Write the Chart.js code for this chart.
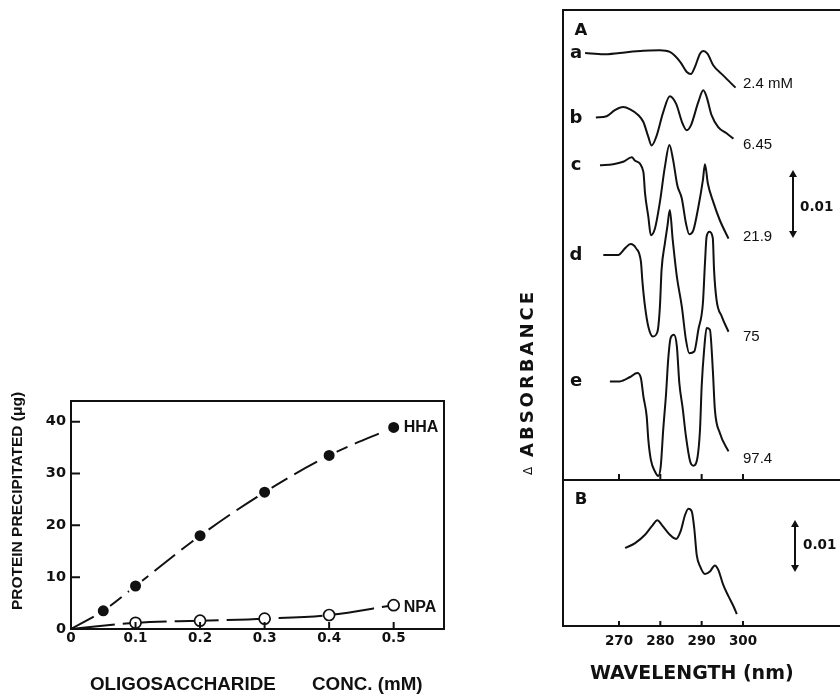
<!DOCTYPE html>
<html>
<head>
<meta charset="utf-8">
<script src="https://cdn.jsdelivr.net/npm/chart.js@4.4.1/dist/chart.umd.min.js"></script>
<style>
html, body { margin: 0; padding: 0; background: #fff; overflow: hidden; width: 840px; height: 696px; }
canvas { position: absolute; }
#left { left: 0; top: 380px; }
#specA { left: 500px; top: 0; }
#specB { left: 500px; top: 470px; }
</style>
</head>
<body>
<canvas id="left" width="460" height="316"></canvas>
<canvas id="specA" width="350" height="490"></canvas>
<canvas id="specB" width="350" height="226"></canvas>
<script>
// ---- left plot: protein precipitated vs oligosaccharide conc.
var concMM   = [0, 0.05, 0.1, 0.2, 0.3, 0.4, 0.5];
var hhaUg    = [0, 3.5, 8.3, 18.0, 26.4, 33.5, 38.9];
var npaConc  = [0, 0.1, 0.2, 0.3, 0.4, 0.5];
var npaUg    = [0, 1.2, 1.6, 2.0, 2.7, 4.6];
var concTicks = [0, 0.1, 0.2, 0.3, 0.4, 0.5];
var ugTicks   = [0, 10, 20, 30, 40];

// ---- difference spectra, wavelength (nm) and delta A (units of 0.001) from each trace start
var wl_a = [261.8, 266.2, 270.2, 274.3, 279.9, 282.3, 284.8, 286.4, 287.4, 288.4, 289.6, 290.4, 291.4, 292.8, 295.2, 298.2];
var da_a = [0, -0.2, 0, 0.25, 0.4, 0.15, -1.3, -2.8, -3.1, -2.0, -0.1, 0.3, -0.1, -1.8, -3.3, -5.1];
var wl_b = [264.4, 267.0, 269.0, 271.0, 272.7, 274.7, 275.9, 277.1, 277.9, 279.0, 280.7, 282.3, 283.8, 285.4, 286.4, 287.4, 289.2, 290.4, 291.2, 292.4, 294.0, 296.1, 297.7];
var da_b = [0, 0.2, 1.1, 1.55, 1.2, 0.35, -0.65, -2.85, -4.1, -2.85, 0.8, 3.15, 2.05, -0.9, -1.85, -1.15, 2.3, 4.0, 3.05, 0.35, -1.4, -2.35, -3.1];
var wl_c = [265.4, 268.6, 271.0, 273.1, 273.9, 275.9, 276.3, 277.1, 277.7, 278.7, 279.9, 281.1, 282.2, 283.1, 284.1, 285.2, 286.2, 287.0, 288.0, 289.2, 290.3, 290.8, 291.5, 292.8, 294.4, 296.5];
var da_c = [0, 0.15, 0.5, 1.15, 0.65, -1.0, -4.15, -7.6, -10.3, -9.3, -5.4, -0.25, 2.95, 0.75, -2.95, -4.9, -8.55, -10.15, -9.55, -6.15, -2.2, 0.15, -2.7, -5.4, -8.1, -10.8];
var wl_d = [266.2, 269.8, 271.5, 272.8, 274.1, 275.3, 275.7, 276.3, 277.1, 278.2, 279.3, 279.9, 280.3, 281.1, 281.7, 282.3, 283.0, 284.0, 285.2, 286.2, 287.0, 288.2, 289.2, 290.3, 290.8, 291.2, 291.9, 292.7, 293.0, 293.6, 294.9, 296.5];
var da_d = [0, 0, 1.0, 1.6, 1.0, -1.0, -4.15, -7.6, -10.55, -12.0, -11.3, -7.6, -2.2, 1.7, 4.15, 6.6, 2.2, -3.2, -7.6, -12.5, -14.45, -14.2, -11.0, -7.1, -1.2, 2.7, 3.4, 2.45, -2.2, -6.6, -9.1, -11.3];
var wl_e = [267.8, 270.2, 272.7, 274.4, 275.3, 275.9, 276.7, 277.1, 277.7, 278.7, 279.5, 280.1, 280.7, 281.4, 281.9, 282.5, 283.3, 284.0, 284.6, 285.4, 286.2, 287.2, 288.0, 288.8, 289.6, 290.0, 290.6, 291.2, 292.0, 292.7, 293.2, 294.4, 296.5];
var da_e = [0, 0, 0.65, 1.25, 0.5, -2.2, -5.15, -8.6, -11.5, -13.25, -13.9, -12.5, -7.1, -1.7, 3.2, 6.4, 6.85, 5.15, -0.25, -3.9, -8.1, -11.75, -12.4, -11.75, -7.1, -0.75, 4.65, 7.85, 7.6, 1.7, -4.15, -7.6, -10.3];
var traceBase  = [62.8, 53.3, 46.3, 33.1, 14.5];   // start level of each trace, 0.001 A
var traceNames = ['a', 'b', 'c', 'd', 'e'];
var traceConc  = ['2.4 mM', '6.45', '21.9', '75', '97.4'];
var wl_B = [271.5, 273.9, 276.3, 277.9, 279.3, 280.3, 282.3, 283.8, 284.9, 286.0, 286.8, 287.6, 288.2, 288.8, 289.6, 290.8, 292.0, 293.2, 294.0, 295.2, 296.5, 297.7, 298.5];
var da_B = [0, 0.95, 2.55, 4.15, 5.35, 4.5, 2.55, 1.75, 3.2, 6.4, 7.55, 7.05, 3.85, -1.3, -3.5, -5.0, -4.5, -3.35, -4.15, -7.05, -9.3, -11.2, -12.7];
var baseB = 15.0;
var wlTicks = [270, 280, 290, 300];
var barA = [35.6, 45.6];   // 0.01 A scale bar
var barB = [10.4, 20.4];

var ink = '#111';
var concDy = [-4, 6, -2, 5, 7];
Chart.defaults.font.family = '"DejaVu Sans"';
Chart.defaults.color = ink;

function txt(ctx, s, x, y, font, align, base, rot, spacing) {
	ctx.save();
	ctx.font = font;
	ctx.textAlign = align || 'left';
	ctx.textBaseline = base || 'alphabetic';
	if (spacing) ctx.letterSpacing = spacing;
	ctx.translate(x, y);
	if (rot) ctx.rotate(rot);
	ctx.fillText(s, 0, 0);
	ctx.restore();
}

function frame(ctx, a) {
	ctx.lineWidth = 2;
	ctx.strokeRect(a.left, a.top, a.right - a.left, a.bottom - a.top);
}

// ticks pointing into the plot
function xTicksIn(ctx, s, y, vals, len) {
	ctx.beginPath();
	vals.forEach(function(v){
		var p = s.getPixelForValue(v);
		ctx.moveTo(p, y); ctx.lineTo(p, y - len);
	});
	ctx.stroke();
}
function yTicksIn(ctx, s, x, vals, len) {
	ctx.beginPath();
	vals.forEach(function(v){
		var p = s.getPixelForValue(v);
		ctx.moveTo(x, p); ctx.lineTo(x + len, p);
	});
	ctx.stroke();
}

function scaleBar(ctx, x, y1, y2) {
	var top = Math.min(y1, y2), bot = Math.max(y1, y2);
	ctx.lineWidth = 2;
	ctx.beginPath();
	ctx.moveTo(x, top + 5); ctx.lineTo(x, bot - 5);
	ctx.stroke();
	ctx.beginPath();
	ctx.moveTo(x, top); ctx.lineTo(x - 4, top + 7); ctx.lineTo(x + 4, top + 7); ctx.closePath();
	ctx.moveTo(x, bot); ctx.lineTo(x - 4, bot - 7); ctx.lineTo(x + 4, bot - 7); ctx.closePath();
	ctx.fill();
}

function pts(xs, ys, base) {
	return xs.map(function(x, i){ return { x: x, y: (base || 0) + ys[i] }; });
}

var noLegend = { legend: { display: false }, tooltip: { enabled: false } };

// ---------------- left chart
var leftExtras = {
	id: 'leftExtras',
	afterDraw: function(chart) {
		var ctx = chart.ctx, a = chart.chartArea, xs = chart.scales.x, ys = chart.scales.y;
		ctx.save();
		ctx.strokeStyle = ink; ctx.fillStyle = ink;
		frame(ctx, a);
		ctx.lineWidth = 2;
		xTicksIn(ctx, xs, a.bottom, concTicks.slice(1), 7);
		yTicksIn(ctx, ys, a.left, ugTicks.slice(1), 9);
		var n = concMM.length - 1;
		txt(ctx, 'HHA', xs.getPixelForValue(concMM[n]) + 10, ys.getPixelForValue(hhaUg[n]), 'bold 16px "Liberation Sans"', 'left', 'middle');
		n = npaConc.length - 1;
		txt(ctx, 'NPA', xs.getPixelForValue(npaConc[n]) + 10, ys.getPixelForValue(npaUg[n]) + 2, 'bold 16px "Liberation Sans"', 'left', 'middle');
		txt(ctx, 'PROTEIN PRECIPITATED (\u03bcg)', a.left - 53, a.top + 100, 'bold 15.5px "Liberation Sans"', 'center', 'middle', -Math.PI / 2);
		txt(ctx, 'OLIGOSACCHARIDE', 90, 310, 'bold 18.8px "Liberation Sans"', 'left', 'alphabetic');
		txt(ctx, 'CONC. (mM)', 312, 310, 'bold 18.8px "Liberation Sans"', 'left', 'alphabetic');
		ctx.restore();
	}
};

new Chart(document.getElementById('left'), {
	type: 'line',
	data: {
		datasets: [{
			label: 'HHA',
			data: pts(concMM, hhaUg),
			borderColor: ink, borderWidth: 2, borderDash: [26, 8],
			cubicInterpolationMode: 'monotone',
			pointRadius: concMM.map(function(c){ return c === 0 ? 0 : 7; }),
			pointBackgroundColor: ink, pointBorderColor: '#fff', pointBorderWidth: 3
		}, {
			label: 'NPA',
			data: pts(npaConc, npaUg),
			borderColor: ink, borderWidth: 2, borderDash: [44, 8],
			cubicInterpolationMode: 'monotone',
			pointRadius: npaConc.map(function(c){ return c === 0 ? 0 : 5.5; }),
			pointBackgroundColor: '#fff', pointBorderColor: ink, pointBorderWidth: 1.7
		}]
	},
	options: {
		responsive: false, animation: false,
		layout: { padding: { left: 0, top: 21, right: 16, bottom: 0 } },
		plugins: noLegend,
		scales: {
			x: {
				type: 'linear', min: 0, max: 0.578,
				grid: { display: false, drawTicks: false }, border: { display: false },
				afterBuildTicks: function(s){ s.ticks = concTicks.map(function(v){ return { value: v }; }); },
				ticks: {
					autoSkip: false, maxRotation: 0, padding: 1,
					font: { family: '"DejaVu Sans"', weight: 'bold', size: 13.5 },
					callback: function(v){ return v === 0 ? '0' : v.toFixed(1); }
				},
				afterFit: function(s){ s.height = 67; }
			},
			y: {
				type: 'linear', min: 0, max: 44,
				grid: { display: false, drawTicks: false }, border: { display: false },
				afterBuildTicks: function(s){ s.ticks = ugTicks.map(function(v){ return { value: v }; }); },
				ticks: { autoSkip: false, padding: 5, font: { family: '"DejaVu Sans"', weight: 'bold', size: 14.5 } },
				afterFit: function(s){ s.width = 71; }
			}
		}
	},
	plugins: [leftExtras]
});

// ---------------- spectra, panel A
var traceWl = [wl_a, wl_b, wl_c, wl_d, wl_e];
var traceDa = [da_a, da_b, da_c, da_d, da_e];
var wlMin = 256.45, wlMax = 325.41;

var specAExtras = {
	id: 'specAExtras',
	afterDraw: function(chart) {
		var ctx = chart.ctx, a = chart.chartArea, ys = chart.scales.y;
		ctx.save();
		ctx.strokeStyle = ink; ctx.fillStyle = ink;
		frame(ctx, a);
		ctx.lineWidth = 2;
		xTicksIn(ctx, chart.scales.x, a.bottom, wlTicks, 6);
		txt(ctx, 'A', a.left + 18, a.top + 25, 'bold 16.5px "DejaVu Sans"', 'center', 'alphabetic');
		traceNames.forEach(function(n, i){
			var d = traceDa[i], last = d.length - 1;
			var y0 = ys.getPixelForValue(traceBase[i] + d[0]);
			txt(ctx, n, a.left + 13, y0 + 5, 'bold 18px "DejaVu Sans"', 'center', 'alphabetic');
			var y1 = ys.getPixelForValue(traceBase[i] + d[last]);
			txt(ctx, traceConc[i], a.left + 180, y1 + concDy[i], '15px "Liberation Sans"', 'left', 'middle');
		});
		var t = ys.getPixelForValue(barA[1]), b = ys.getPixelForValue(barA[0]);
		scaleBar(ctx, a.left + 230, t, b);
		txt(ctx, '0.01', a.left + 237, (t + b) / 2 + 4, 'bold 13.5px "DejaVu Sans"', 'left', 'middle');
		txt(ctx, 'ABSORBANCE', a.left - 35, a.bottom - 23, 'bold 18px "DejaVu Sans"', 'left', 'middle', -Math.PI / 2, '3px');
		txt(ctx, '\u0394', a.left - 34, a.bottom - 9, '12px "DejaVu Sans"', 'center', 'middle', -Math.PI / 2);
		ctx.restore();
	}
};

new Chart(document.getElementById('specA'), {
	type: 'line',
	data: {
		datasets: traceNames.map(function(n, i){
			return { label: n, data: pts(traceWl[i], traceDa[i], traceBase[i]) };
		})
	},
	options: {
		responsive: false, animation: false,
		layout: { padding: { left: 0, top: 10, right: 2, bottom: 0 } },
		plugins: noLegend,
		elements: {
			point: { radius: 0 },
			line: { borderColor: ink, borderWidth: 2, cubicInterpolationMode: 'monotone', fill: false }
		},
		scales: {
			x: {
				type: 'linear', min: wlMin, max: wlMax,
				grid: { display: false }, border: { display: false }, ticks: { display: false },
				afterFit: function(s){ s.height = 10; }
			},
			y: {
				type: 'linear', min: 0, max: 69.12,
				grid: { display: false }, border: { display: false }, ticks: { display: false },
				afterFit: function(s){ s.width = 63; }
			}
		}
	},
	plugins: [specAExtras]
});

// ---------------- spectra, panel B
var specBExtras = {
	id: 'specBExtras',
	afterDraw: function(chart) {
		var ctx = chart.ctx, a = chart.chartArea, ys = chart.scales.y;
		ctx.save();
		ctx.strokeStyle = ink; ctx.fillStyle = ink;
		frame(ctx, a);
		ctx.lineWidth = 2;
		xTicksIn(ctx, chart.scales.x, a.bottom, wlTicks, 5);
		txt(ctx, 'B', a.left + 18, a.top + 23.5, 'bold 16.5px "DejaVu Sans"', 'center', 'alphabetic');
		var t = ys.getPixelForValue(barB[1]), b = ys.getPixelForValue(barB[0]);
		scaleBar(ctx, a.left + 232, t, b);
		txt(ctx, '0.01', a.left + 240, (t + b) / 2, 'bold 13.5px "DejaVu Sans"', 'left', 'middle');
		txt(ctx, 'WAVELENGTH (nm)', 90, 209, 'bold 19px "DejaVu Sans"', 'left', 'alphabetic');
		ctx.restore();
	}
};

new Chart(document.getElementById('specB'), {
	type: 'line',
	data: {
		datasets: [{ label: 'B', data: pts(wl_B, da_B, baseB) }]
	},
	options: {
		responsive: false, animation: false,
		layout: { padding: { left: 0, top: 10, right: 2, bottom: 0 } },
		plugins: noLegend,
		elements: {
			point: { radius: 0 },
			line: { borderColor: ink, borderWidth: 2, cubicInterpolationMode: 'monotone', fill: false }
		},
		scales: {
			x: {
				type: 'linear', min: wlMin, max: wlMax,
				grid: { display: false, drawTicks: false }, border: { display: false },
				afterBuildTicks: function(s){ s.ticks = wlTicks.map(function(v){ return { value: v }; }); },
				ticks: { autoSkip: false, maxRotation: 0, padding: 7, font: { family: '"DejaVu Sans"', weight: 'bold', size: 13.5 } },
				afterFit: function(s){ s.height = 70; }
			},
			y: {
				type: 'linear', min: 0, max: 28.08,
				grid: { display: false }, border: { display: false }, ticks: { display: false },
				afterFit: function(s){ s.width = 63; }
			}
		}
	},
	plugins: [specBExtras]
});
</script>
</body>
</html>
